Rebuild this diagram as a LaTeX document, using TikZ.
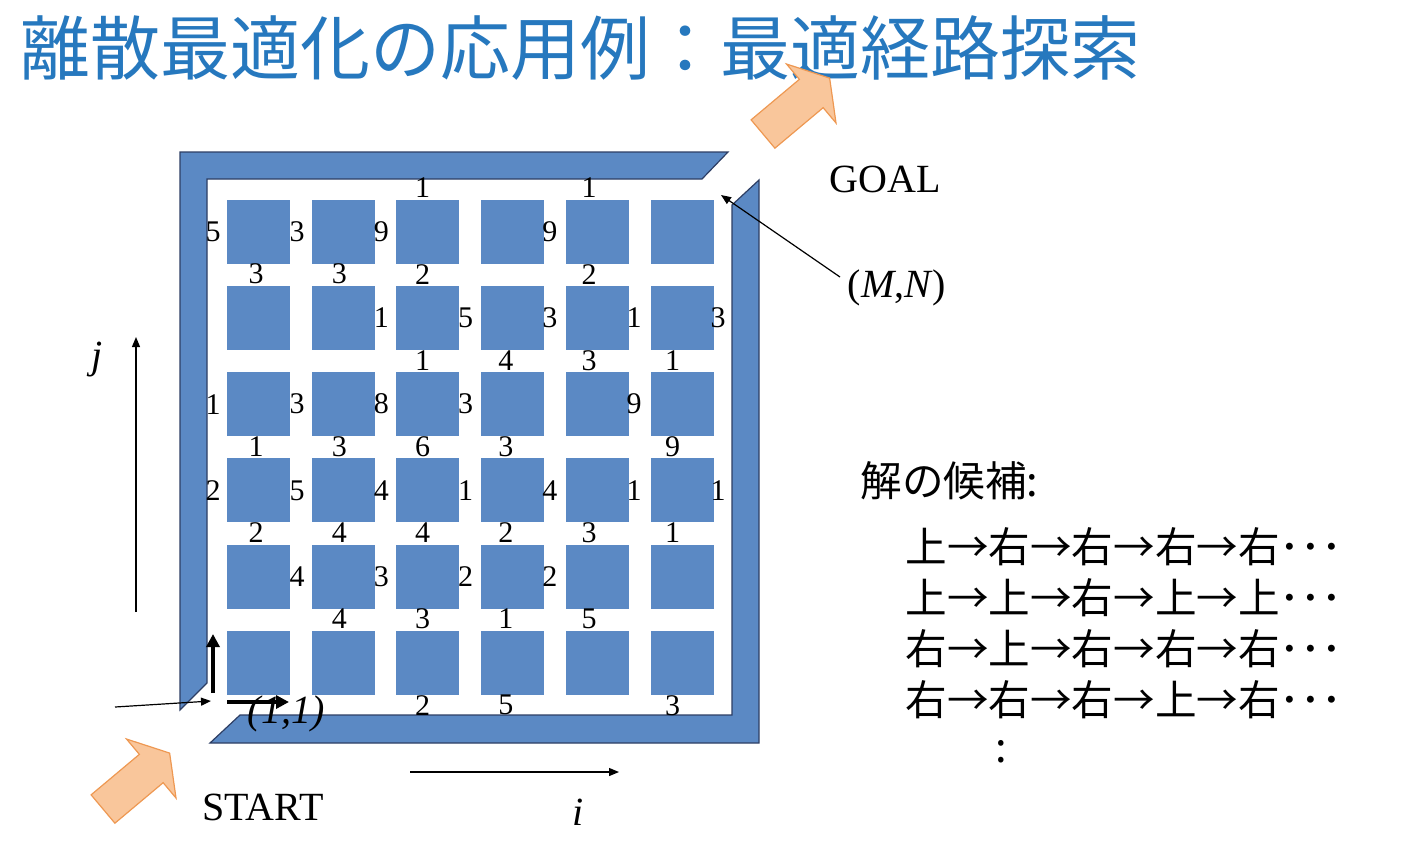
\documentclass[tikz,border=0pt]{standalone}
\usepackage{fontspec}
\setmainfont{Liberation Serif}
\newfontfamily\jpfont{Noto Sans CJK JP}
\usepackage{tikz}
\usetikzlibrary
  {
    arrows.meta,              % triangle arrow heads
  }

\definecolor{blockblue}{RGB}{91,137,196}
\definecolor{wallline}{RGB}{45,62,100}
\definecolor{titleblue}{RGB}{38,120,190}
\definecolor{hintfill}{RGB}{249,198,155}
\definecolor{hintline}{RGB}{238,152,82}

\begin{document}
\begin{tikzpicture}
    [
      x=0.5pt,
      y=-0.5pt,
      block/.style=
        {
          rectangle,
          fill=blockblue,
          minimum width=31.5pt,
          minimum height=32pt,
          inner sep=0pt,
        },
      wall/.style=
        {
          fill=blockblue,
          draw=wallline,
          line width=0.6pt,
        },
      cost/.style=
        {
          inner sep=0pt,
          font=\fontsize{15pt}{15pt}\selectfont,
        },
      tag/.style=
        {
          inner sep=0pt,
          font=\fontsize{20pt}{20pt}\selectfont,
        },
      jtext/.style=
        {
          inner sep=0pt,
          anchor=west,
          font=\jpfont\fontsize{20.8pt}{20.8pt}\selectfont,
        },
      hint/.style=
        {
          fill=hintfill,
          draw=hintline,
          line width=0.6pt,
        },
      pointer/.style=
        {
          line width=0.6pt,
          -{Triangle[length=5pt,width=4pt]},
        },
      move/.style=
        {
          line width=2pt,
          -{Triangle[length=6.5pt,width=6.5pt]},
        },
    ]
    \useasboundingbox (0,0) rectangle (1418,842);

    \node[inner sep=0pt, anchor=west, text=titleblue,
          font=\jpfont\fontsize{35pt}{35pt}\selectfont] (title) at (20,48)
      {離散最適化の応用例：最適経路探索};

    % walls round the streets
    \filldraw[wall] (180,152) -- (728,152) -- (702,179) -- (207,179)
      -- (207,683) -- (180,710) -- cycle;
    \filldraw[wall] (759,180) -- (759,743) -- (210,743) -- (240,715)
      -- (732,715) -- (732,205) -- cycle;

    % city blocks
    \foreach \c in {1,...,6}
      \foreach \r in {1,...,6}
        \node[block] (block\c\r) at ({258.5+84.7*(\c-1)},{231.5+86.3*(\r-1)}) {};

    % costs on the vertical streets
    \foreach \s/\r/\w in {0/1/5,1/1/3,2/1/9,4/1/9,
                          2/2/1,3/2/5,4/2/3,5/2/1,6/2/3,
                          0/3/1,1/3/3,2/3/8,3/3/3,5/3/9,
                          0/4/2,1/4/5,2/4/4,3/4/1,4/4/4,5/4/1,6/4/1,
                          1/5/4,2/5/3,3/5/2,4/5/2}
      \node[cost] (v\s\r) at ({213+84.2*\s},{231.5+86.3*(\r-1)}) {\w};

    % costs on the horizontal streets
    \foreach \c/\j/\w in {3/0/1,5/0/1,
                          1/1/3,2/1/3,3/1/2,5/1/2,
                          3/2/1,4/2/4,5/2/3,6/2/1,
                          1/3/1,2/3/3,3/3/6,4/3/3,6/3/9,
                          1/4/2,2/4/4,3/4/4,4/4/2,5/4/3,6/4/1,
                          2/5/4,3/5/3,4/5/1,5/5/5,
                          3/6/2,4/6/5,6/6/3}
      \node[cost] (h\c\j) at ({256+83.3*(\c-1)},{188+86.2*\j}) {\w};

    % way in and way out
    \begin{scope}[shift={(103,809)}, rotate=40]
      \filldraw[hint] (0,-18.5) -- (63,-18.5) -- (63,-38.5) -- (87,0)
        -- (63,38.5) -- (63,18.5) -- (0,18.5) -- cycle;
    \end{scope}
    \begin{scope}[shift={(763,134)}, rotate=40]
      \filldraw[hint] (0,-18.5) -- (63,-18.5) -- (63,-38.5) -- (87,0)
        -- (63,38.5) -- (63,18.5) -- (0,18.5) -- cycle;
    \end{scope}

    \node[tag] (start) at (263,807) {START};
    \node[tag] (goal)  at (885,179) {GOAL};

    % first moves from the corner
    \coordinate (up tail)    at (213,693);
    \coordinate (up head)    at (213,634);
    \coordinate (right tail) at (227,702);
    \coordinate (right head) at (289,702);
    \draw[move] (up tail) -- (up head);
    \draw[move] (right tail) -- (right head);
    \node[tag] (first corner) at (286,714) {\textit{(1,1)}};

    \coordinate (first pointer) at (115,707);
    \coordinate (first tip)     at (211,701);
    \draw[pointer] (first pointer) -- (first tip);

    \node[tag] (last corner) at (897,288) {(\textit{M},\textit{N})};
    \coordinate (last pointer) at (840,277);
    \coordinate (last tip)     at (721,195);
    \draw[pointer] (last pointer) -- (last tip);

    % axes
    \coordinate (j tail) at (136,612);
    \coordinate (j head) at (136,337);
    \draw[pointer] (j tail) -- (j head);
    \node[tag] (j label) at (97,360) {\textit{j}};

    \coordinate (i tail) at (410,772);
    \coordinate (i head) at (619,772);
    \draw[pointer] (i tail) -- (i head);
    \node[tag] (i label) at (578,812) {\textit{i}};

    % candidate routes
    \node[jtext] (solutions) at (860,481) {解の候補:};
    \foreach \k/\t in {1/上→右→右→右→右･･･,
                       2/上→上→右→上→上･･･,
                       3/右→上→右→右→右･･･,
                       4/右→右→右→上→右･･･}
      \node[jtext] (candidate\k) at (905,{547+50.8*(\k-1)}) {\t};
    \node[jtext] (more) at (995,752) {:};
\end{tikzpicture}
\end{document}
